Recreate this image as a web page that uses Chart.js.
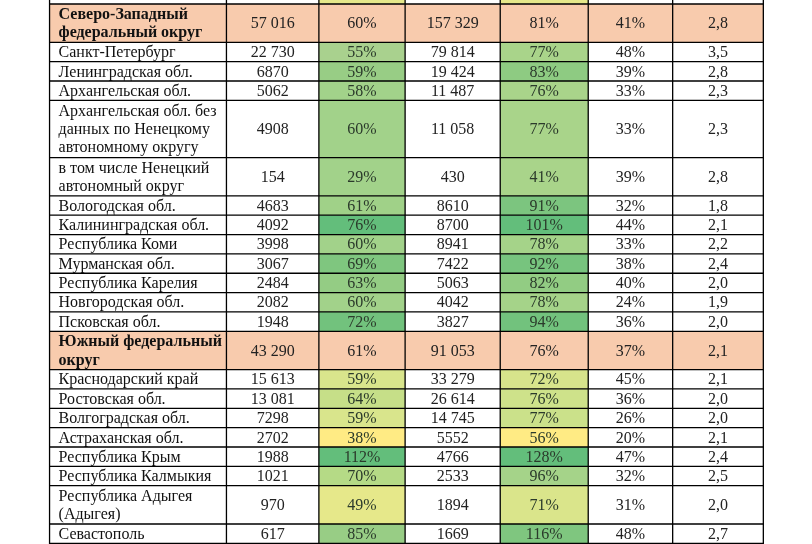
<!DOCTYPE html>
<html>
<head>
<meta charset="utf-8">
<script src="https://cdn.jsdelivr.net/npm/chart.js@4"></script>
<style>
  html, body { margin: 0; padding: 0; background: #fff; overflow: hidden; }
  canvas { display: block; }
</style>
</head>
<body>
<canvas id="tabela" width="812" height="544" style="width:812px;height:544px"></canvas>
<script>
// Данные таблицы
const regioes = [
  ['Северо-Западный', 'федеральный округ'],
  ['Санкт-Петербург'],
  ['Ленинградская обл.'],
  ['Архангельская обл.'],
  ['Архангельская обл. без', 'данных по Ненецкому', 'автономному округу'],
  ['в том числе Ненецкий', 'автономный округ'],
  ['Вологодская обл.'],
  ['Калининградская обл.'],
  ['Республика Коми'],
  ['Мурманская обл.'],
  ['Республика Карелия'],
  ['Новгородская обл.'],
  ['Псковская обл.'],
  ['Южный федеральный', 'округ'],
  ['Краснодарский край'],
  ['Ростовская обл.'],
  ['Волгоградская обл.'],
  ['Астраханская обл.'],
  ['Республика Крым'],
  ['Республика Калмыкия'],
  ['Республика Адыгея', '(Адыгея)'],
  ['Севастополь']
];
const totalRegiao = ['57 016', '22 730', '6870', '5062', '4908', '154', '4683', '4092', '3998', '3067', '2484', '2082', '1948',
  '43 290', '15 613', '13 081', '7298', '2702', '1988', '1021', '970', '617'];
const percent1 = ['60%', '55%', '59%', '58%', '60%', '29%', '61%', '76%', '60%', '69%', '63%', '60%', '72%',
  '61%', '59%', '64%', '59%', '38%', '112%', '70%', '49%', '85%'];
const totalSegundo = ['157 329', '79 814', '19 424', '11 487', '11 058', '430', '8610', '8700', '8941', '7422', '5063', '4042', '3827',
  '91 053', '33 279', '26 614', '14 745', '5552', '4766', '2533', '1894', '1669'];
const percent2 = ['81%', '77%', '83%', '76%', '77%', '41%', '91%', '101%', '78%', '92%', '82%', '78%', '94%',
  '76%', '72%', '76%', '77%', '56%', '128%', '96%', '71%', '116%'];
const percent3 = ['41%', '48%', '39%', '33%', '33%', '39%', '32%', '44%', '33%', '38%', '40%', '24%', '36%',
  '37%', '45%', '36%', '26%', '20%', '47%', '32%', '31%', '48%'];
const razao = ['2,8', '3,5', '2,8', '2,3', '2,3', '2,8', '1,8', '2,1', '2,2', '2,4', '2,0', '1,9', '2,0',
  '2,1', '2,1', '2,0', '2,0', '2,1', '2,4', '2,5', '2,0', '2,7'];
const linhasTotal = [0, 13]; // строки округов

// Оформление (условное форматирование)
const corTotal = '#F8CBAD';
const cores1 = ['#F8CBAD', '#A9D18E', '#98CD85', '#A2D28A', '#A2D28A', '#A2D28A', '#A0D188', '#63BE7B', '#A2D28A', '#7FC67F', '#94CC84', '#A2D28A', '#72C27D',
  '#F8CBAD', '#D9E58C', '#C6DF88', '#D9E58C', '#FFEB84', '#63BE7B', '#B5DA86', '#E6E88A', '#98CD85'];
const cores2 = ['#F8CBAD', '#A9D48A', '#8ECB82', '#A9D48A', '#A9D48A', '#A9D48A', '#7CC57F', '#63BE7B', '#A5D389', '#77C47E', '#92CC83', '#A5D389', '#72C27D',
  '#F8CBAD', '#D7E48B', '#CEE28A', '#CBE18A', '#FFEB84', '#63BE7B', '#A5D389', '#DAE58B', '#7FC67F'];
const bordasX = [5, 204, 308, 405, 512, 611, 706, 808];
const topo = 4, alturaLinha = 19.35;

const tabelaPlugin = {
  id: 'tabela',
  afterDraw(chart) {
    const ctx = chart.ctx;
    const sx = chart.scales.x, sy = chart.scales.y;
    const X = v => sx.getPixelForValue(v);
    const Y = v => sy.getPixelForValue(v);
    const colunas = [totalRegiao, percent1, totalSegundo, percent2, percent3, razao];
    const fonte = '16px "Liberation Serif", "Times New Roman", serif';
    ctx.save();
    // верхняя обрезанная строка
    ctx.fillStyle = '#E6E88A';
    ctx.fillRect(X(bordasX[2]), Y(0), X(bordasX[3]) - X(bordasX[2]), Y(topo) - Y(0));
    ctx.fillRect(X(bordasX[4]), Y(0), X(bordasX[5]) - X(bordasX[4]), Y(topo) - Y(0));
    let y = topo;
    const limites = [];
    regioes.forEach((nome, i) => {
      const n = nome.length;
      const h = n === 1 ? alturaLinha : (n === 2 ? 38.3 : 57.2);
      const y0 = Y(y), y1 = Y(y + h);
      const total = linhasTotal.includes(i);
      if (total) {
        ctx.fillStyle = corTotal;
        ctx.fillRect(X(bordasX[0]), y0, X(bordasX[7]) - X(bordasX[0]), y1 - y0);
      } else {
        ctx.fillStyle = cores1[i];
        ctx.fillRect(X(bordasX[2]), y0, X(bordasX[3]) - X(bordasX[2]), y1 - y0);
        ctx.fillStyle = cores2[i];
        ctx.fillRect(X(bordasX[4]), y0, X(bordasX[5]) - X(bordasX[4]), y1 - y0);
      }
      ctx.fillStyle = '#111';
      ctx.font = (total ? 'bold ' : '') + fonte;
      ctx.textBaseline = 'middle';
      ctx.textAlign = 'left';
      const passo = 18.3;
      const meio = (y0 + y1) / 2 + 1;
      nome.forEach((t, k) => {
        ctx.fillText(t, X(bordasX[0]) + 9, meio + (k - (n - 1) / 2) * passo);
      });
      ctx.font = fonte;
      ctx.textAlign = 'center';
      colunas.forEach((col, c) => {
        ctx.fillStyle = (c === 1 || c === 3) && !total ? '#2b3a2b' : '#222';
        ctx.fillText(col[i], (X(bordasX[c + 1]) + X(bordasX[c + 2])) / 2, meio);
      });
      limites.push(y);
      y += h;
    });
    limites.push(y);
    // нижняя обрезанная строка
    ctx.fillStyle = corTotal;
    ctx.fillRect(X(bordasX[0]), Y(y), X(bordasX[7]) - X(bordasX[0]), Y(544) - Y(y));
    // линии
    ctx.strokeStyle = '#000';
    ctx.lineWidth = 1.3;
    ctx.beginPath();
    limites.forEach(v => { ctx.moveTo(X(bordasX[0]), Y(v)); ctx.lineTo(X(bordasX[7]), Y(v)); });
    bordasX.forEach(v => { ctx.moveTo(X(v), Y(0)); ctx.lineTo(X(v), Y(544)); });
    ctx.stroke();
    ctx.restore();
  }
};

new Chart(document.getElementById('tabela'), {
  type: 'bar',
  data: { labels: [], datasets: [] },
  options: {
    responsive: false,
    animation: false,
    devicePixelRatio: 1,
    layout: { padding: 0 },
    plugins: { legend: { display: false }, tooltip: { enabled: false } },
    scales: {
      x: { type: 'linear', min: 0, max: 812, display: false },
      y: { type: 'linear', min: 0, max: 544, reverse: true, display: false }
    }
  },
  plugins: [tabelaPlugin]
});
</script>
</body>
</html>
